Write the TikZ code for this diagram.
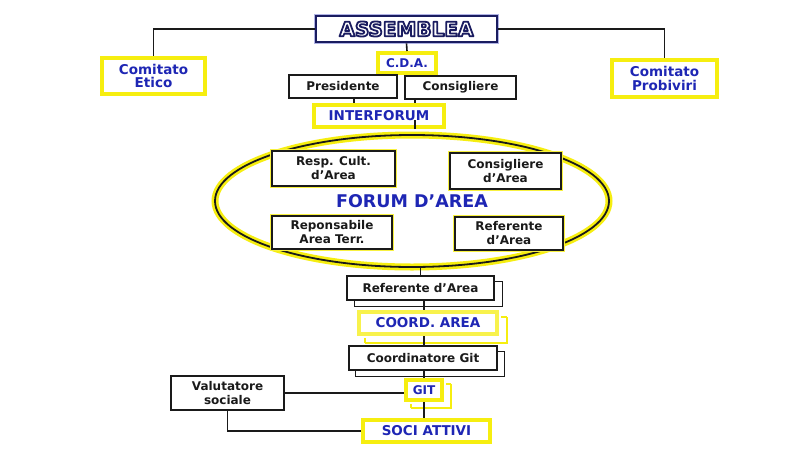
\documentclass[tikz,border=0pt]{standalone}
\usepackage{fontspec}
\setmainfont{DejaVu Sans}
\usetikzlibrary{calc,shapes.geometric}
\definecolor{hiyellow}{RGB}{246,238,16}
\definecolor{inkblue}{RGB}{30,38,180}
\definecolor{navy}{RGB}{26,28,96}
\definecolor{ink}{RGB}{26,26,26}
\newcommand{\bfsize}[2]{\bfseries\fontsize{#1}{#2}\selectfont}
% white letters with a navy outline (text render mode 2: fill, then stroke)
\newcommand{\outlined}[1]{\color{white}\special{pdf:code q 0.102 0.110 0.376 RG 1.8 w 1 j 2 Tr}#1\special{pdf:code Q}}
\begin{document}
\begin{tikzpicture}[x=1pt,y=-1pt,
  conn/.style={draw=ink,line width=1.6},
  plainbox/.style={draw=ink,line width=1.5,fill=white,text=ink,align=center,
    inner sep=0pt,font=\bfsize{12}{14}},
  glowbox/.style={plainbox,preaction={draw=hiyellow!80,line width=4.5}},
  yelbox/.style={draw=hiyellow,line width=4,fill=white,text=inkblue,align=center,
    inner sep=0pt,font=\bfsize{13.5}{13.5}},
  plainshadow/.style={draw=ink,line width=1},
  yelshadow/.style={draw=hiyellow,line width=1.5},
]
\fill[white] (0,0) rectangle (809,448);
\useasboundingbox (0,0) rectangle (809,448);

% top of the chart
\node[draw=navy,line width=2.6,fill=white,minimum width=181,minimum height=26,inner sep=0pt,
  preaction={draw=inkblue!35,line width=4.5},font=\bfsize{20}{20}]
  (assemblea) at (406.5,29) {\outlined{ASSEMBLEA}};

\node[yelbox,minimum width=103,minimum height=36] (etico) at (153.5,76) {Comitato\\Etico};
\node[yelbox,minimum width=105,minimum height=37] (probiviri) at (664.5,78.5) {Comitato\\Probiviri};
\node[yelbox,minimum width=58,minimum height=20,font=\bfsize{12}{12}] (cda) at (407,63) {C.D.A.};

\node[plainbox,minimum width=108,minimum height=23] (pres) at (343,86.5) {Presidente};
\node[plainbox,minimum width=111,minimum height=23] (cons) at (460.5,87.5) {Consigliere};

\node[yelbox,minimum width=130,minimum height=22] (interforum) at (379,116) {INTERFORUM};

% forum d'area
\node[ellipse,draw=ink,line width=1.8,minimum width=394,minimum height=132,inner sep=0pt,
  preaction={draw=hiyellow,line width=7},text=inkblue,font=\bfsize{17.5}{17.5}]
  (forum) at (412,201) {FORUM D’AREA};
\node[glowbox,minimum width=123,minimum height=35] (resp) at (333.5,168.5) {Resp. Cult.\\d’Area};
\node[glowbox,minimum width=111,minimum height=36] (consarea) at (505.5,171) {Consigliere\\d’Area};
\node[glowbox,minimum width=120,minimum height=33] (repons) at (332,232.5) {Reponsabile\\Area Terr.};
\node[glowbox,minimum width=108,minimum height=33] (refarea) at (509,233.5) {Referente\\d’Area};

% chain below the forum
\node[plainbox,minimum width=147,minimum height=24] (ref) at (420.5,288) {Referente d’Area};
\node[yelbox,draw=hiyellow!75,minimum width=138,minimum height=22] (coord) at (428,323) {COORD. AREA};
\node[plainbox,minimum width=148,minimum height=24] (cgit) at (423,358) {Coordinatore Git};
\node[yelbox,minimum width=36,minimum height=20,font=\bfsize{12}{12}] (git) at (424,390) {GIT};
\node[yelbox,minimum width=127,minimum height=22] (soci) at (426.5,431) {SOCI ATTIVI};
\node[plainbox,minimum width=113,minimum height=34] (valut) at (227.5,393) {Valutatore\\sociale};

% offset outlines behind the boxes
\draw[plainshadow] ([shift={(8,6)}]ref.north east) -- ([shift={(8,6)}]ref.south east) -- ([shift={(8,6)}]ref.south west);
\draw[plainshadow] (ref.north east) ++(0,6) -- ++(8,0);
\draw[plainshadow] (ref.south west) ++(8,0) -- ++(0,6);
\draw[yelshadow] ([shift={(8,7)}]coord.north east) -- ([shift={(8,7)}]coord.south east) -- ([shift={(8,7)}]coord.south west);
\draw[yelshadow] (coord.north east) ++(2,7) -- ++(6,0);
\draw[yelshadow] (coord.south west) ++(8,2) -- ++(0,5);
\draw[plainshadow] ([shift={(7,6)}]cgit.north east) -- ([shift={(7,6)}]cgit.south east) -- ([shift={(7,6)}]cgit.south west);
\draw[plainshadow] (cgit.north east) ++(0,6) -- ++(7,0);
\draw[plainshadow] (cgit.south west) ++(7,0) -- ++(0,6);
\draw[yelshadow] ([shift={(7,6)}]git.north east) -- ([shift={(7,6)}]git.south east) -- ([shift={(7,6)}]git.south west);
\draw[yelshadow] (git.north east) ++(2,6) -- ++(5,0);
\draw[yelshadow] (git.south west) ++(7,2) -- ++(0,4);

% connectors
\draw[conn] (assemblea.west) -| (etico.north);
\draw[conn] (assemblea.east) -| (probiviri.north);
\draw[conn] (assemblea.south) -- (cda.north);
\draw[conn] ([xshift=11]pres.south) -- ([xshift=11]pres.south |- interforum.north);
\draw[conn] ([xshift=-45.5]cons.south) -- ([xshift=-45.5]cons.south |- interforum.north);
\draw[conn] ([xshift=36]interforum.south) -- ([xshift=36,yshift=9]interforum.south);
\draw[conn] (ref.north |- forum.south) -- (ref.north);
\draw[conn] (ref.south -| git.north) -- (coord.north -| git.north);
\draw[conn] (coord.south -| git.north) -- (cgit.north -| git.north);
\draw[conn] (cgit.south -| git.north) -- (git.north);
\draw[conn] (git.south) -- (soci.north -| git.south);
\draw[conn] (valut.east) -- (valut.east -| git.west);
\draw[conn] (valut.south) |- (soci.west);
\end{tikzpicture}
\end{document}
